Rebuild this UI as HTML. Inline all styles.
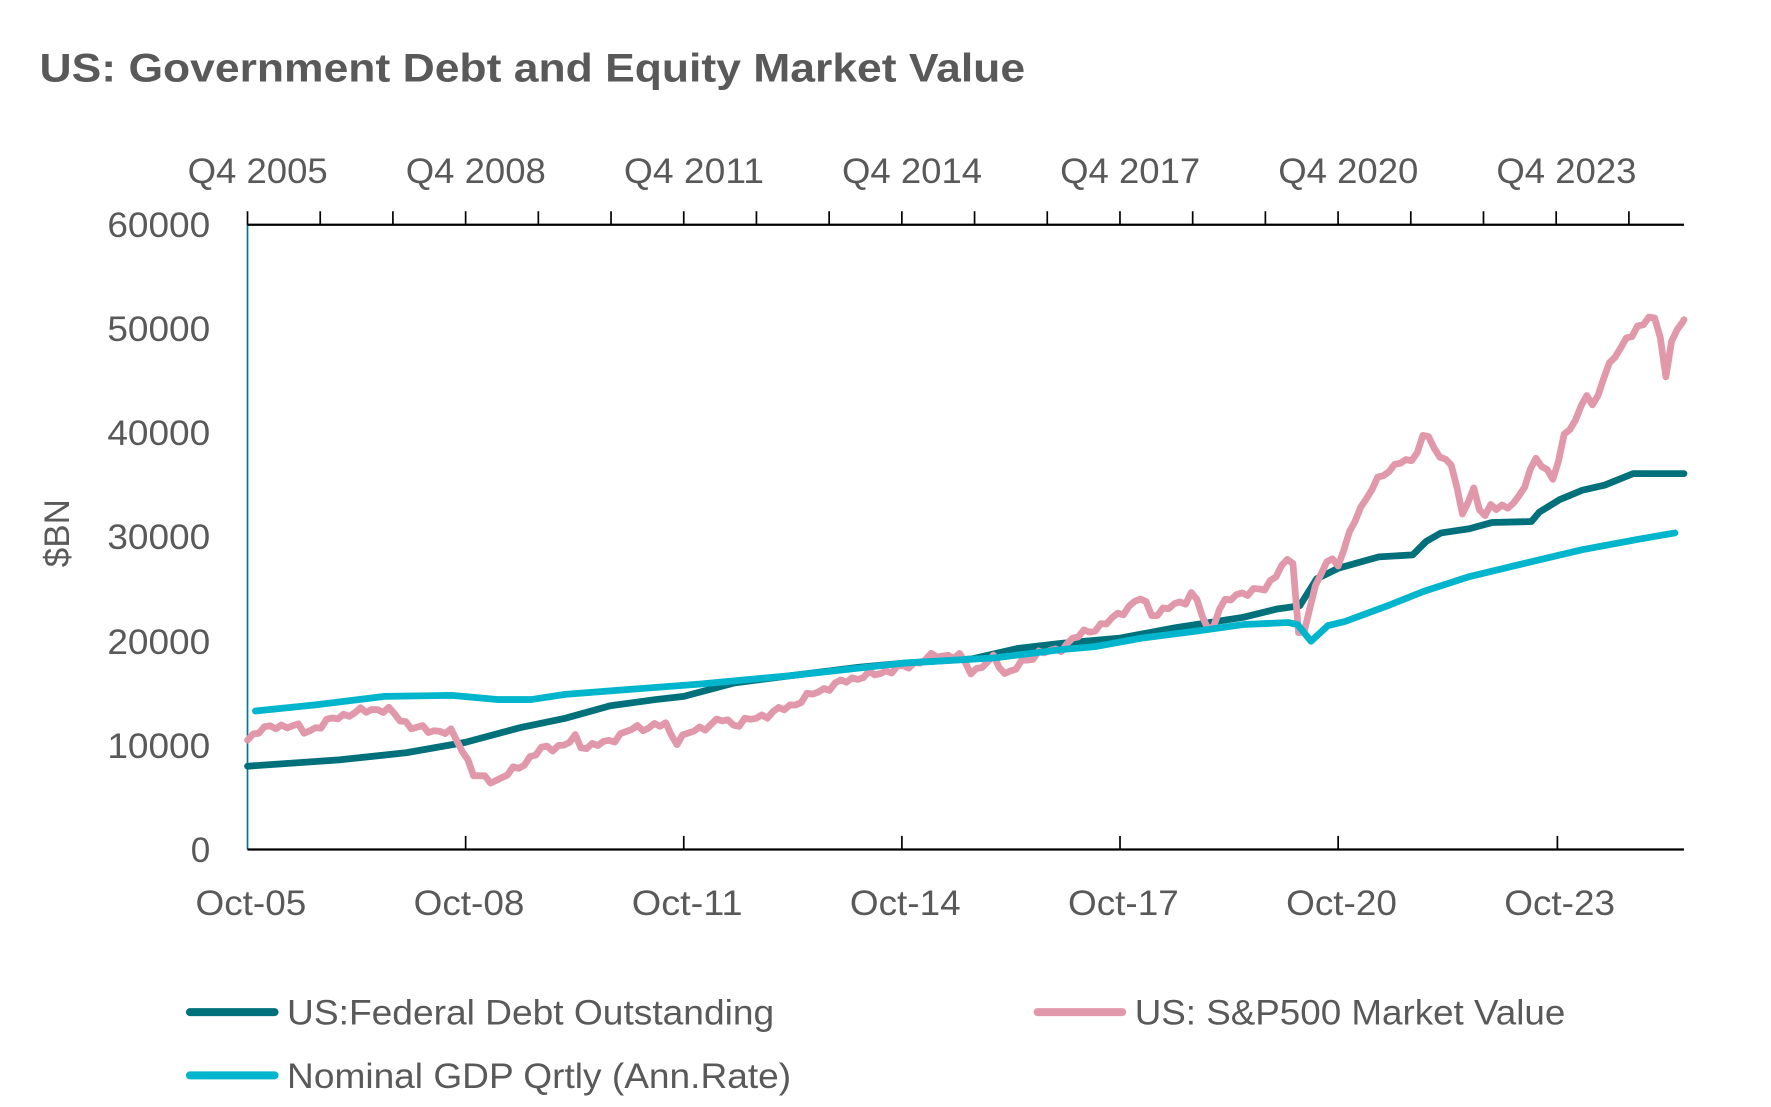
<!DOCTYPE html>
<html><head><meta charset="utf-8"><style>
html,body{margin:0;padding:0;background:#fff;width:1771px;height:1107px;overflow:hidden}
svg{display:block}
text{font-family:"Liberation Sans",sans-serif;fill:#595959}
</style></head><body>
<svg id="s" width="1771" height="1107" viewBox="0 0 1567 980" preserveAspectRatio="none" xmlns="http://www.w3.org/2000/svg">
<text x="35" y="72" font-size="35" font-weight="bold" textLength="872" lengthAdjust="spacingAndGlyphs">US: Government Debt and Equity Market Value</text>
<g font-size="31" text-anchor="middle">
<text x="228" y="162" textLength="124" lengthAdjust="spacingAndGlyphs">Q4 2005</text><text x="421" y="162" textLength="124" lengthAdjust="spacingAndGlyphs">Q4 2008</text><text x="614" y="162" textLength="124" lengthAdjust="spacingAndGlyphs">Q4 2011</text><text x="807" y="162" textLength="124" lengthAdjust="spacingAndGlyphs">Q4 2014</text><text x="1000" y="162" textLength="124" lengthAdjust="spacingAndGlyphs">Q4 2017</text><text x="1193" y="162" textLength="124" lengthAdjust="spacingAndGlyphs">Q4 2020</text><text x="1386" y="162" textLength="124" lengthAdjust="spacingAndGlyphs">Q4 2023</text>
<text x="222" y="810" textLength="98" lengthAdjust="spacingAndGlyphs">Oct-05</text><text x="415" y="810" textLength="98" lengthAdjust="spacingAndGlyphs">Oct-08</text><text x="608" y="810" textLength="98" lengthAdjust="spacingAndGlyphs">Oct-11</text><text x="801" y="810" textLength="98" lengthAdjust="spacingAndGlyphs">Oct-14</text><text x="994" y="810" textLength="98" lengthAdjust="spacingAndGlyphs">Oct-17</text><text x="1187" y="810" textLength="98" lengthAdjust="spacingAndGlyphs">Oct-20</text><text x="1380" y="810" textLength="98" lengthAdjust="spacingAndGlyphs">Oct-23</text>
</g>
<g font-size="31" text-anchor="end">
<text x="186" y="210" textLength="91" lengthAdjust="spacingAndGlyphs">60000</text><text x="186" y="302" textLength="91" lengthAdjust="spacingAndGlyphs">50000</text><text x="186" y="394" textLength="91" lengthAdjust="spacingAndGlyphs">40000</text><text x="186" y="486" textLength="91" lengthAdjust="spacingAndGlyphs">30000</text><text x="186" y="579" textLength="91" lengthAdjust="spacingAndGlyphs">20000</text><text x="186" y="671" textLength="91" lengthAdjust="spacingAndGlyphs">10000</text><text x="186" y="763">0</text>
</g>
<text transform="translate(61,472) rotate(-90)" font-size="31" text-anchor="middle">$BN</text>
<line x1="219" y1="199" x2="219" y2="752" stroke="#00778b" stroke-width="1.5"/>
<line x1="219" y1="199" x2="1490" y2="199" stroke="#000" stroke-width="2"/>
<line x1="219" y1="752" x2="1490" y2="752" stroke="#000" stroke-width="2"/>
<g id="ticks" stroke="#000" stroke-width="1.5"></g>
<g id="lines" fill="none" stroke-width="6" stroke-linejoin="round" stroke-linecap="round"></g>
<g stroke-width="7" stroke-linecap="round">
<line x1="168" y1="896" x2="243" y2="896" stroke="#00707a"/>
<line x1="918" y1="896" x2="993" y2="896" stroke="#e298ab"/>
<line x1="168" y1="952" x2="243" y2="952" stroke="#00b5cc"/>
</g>
<g font-size="31">
<text x="254" y="907" textLength="431" lengthAdjust="spacingAndGlyphs">US:Federal Debt Outstanding</text>
<text x="1004" y="907" textLength="381" lengthAdjust="spacingAndGlyphs">US: S&amp;P500 Market Value</text>
<text x="254" y="963" textLength="446" lengthAdjust="spacingAndGlyphs">Nominal GDP Qrtly (Ann.Rate)</text>
</g>
</svg>
<script>
var NS="http://www.w3.org/2000/svg";
function yv(v){return 752-v*553/60000;}
var t=document.getElementById('ticks');
for(var x=219;x<=1490;x+=64.33){var l=document.createElementNS(NS,'line');l.setAttribute('x1',x);l.setAttribute('x2',x);l.setAttribute('y1',199);l.setAttribute('y2',187);t.appendChild(l);}
[412,605,798,991,1184,1378].forEach(function(x){var l=document.createElementNS(NS,'line');l.setAttribute('x1',x);l.setAttribute('x2',x);l.setAttribute('y1',752);l.setAttribute('y2',740);t.appendChild(l);});
function interp(k,step){var out=[];for(var x=k[0][0];x<=k[k.length-1][0];x+=step){for(var i=0;i<k.length-1&&k[i+1][0]<x;i++);var a=k[i],b=k[Math.min(i+1,k.length-1)];var f=b[0]==a[0]?0:(x-a[0])/(b[0]-a[0]);out.push([x,a[1]+(b[1]-a[1])*f]);}out.push(k[k.length-1]);return out;}
function draw(pts,col,step,jit){var p=step?interp(pts,step):pts;var s=p.map(function(q,i){var j=jit?(Math.sin(i*2.3)*jit+Math.sin(i*5.1)*jit*0.6):0;return q[0].toFixed(1)+','+yv(q[1]+j).toFixed(1);}).join(' ');var e=document.createElementNS(NS,'polyline');e.setAttribute('points',s);e.setAttribute('stroke',col);document.getElementById('lines').appendChild(e);}
var debt=[[219,8000],[300,8600],[360,9300],[412,10300],[460,11700],[500,12600],[540,13800],[580,14400],[605,14700],[650,16000],[700,16700],[760,17500],[800,17900],[860,18300],[900,19300],[940,19800],[991,20300],[1040,21300],[1100,22300],[1130,23100],[1150,23400],[1165,26000],[1184,27000],[1220,28100],[1250,28300],[1262,29600],[1275,30400],[1300,30800],[1320,31400],[1355,31500],[1362,32400],[1380,33600],[1400,34500],[1420,35000],[1445,36100],[1490,36100]];
var gdp=[[226,13300],[280,13900],[340,14700],[400,14800],[440,14400],[470,14400],[500,14900],[560,15400],[620,15900],[700,16700],[800,17900],[880,18400],[940,19200],[970,19500],[1010,20300],[1060,21000],[1100,21600],[1140,21800],[1148,21600],[1160,20000],[1175,21500],[1190,21900],[1230,23500],[1260,24800],[1300,26200],[1350,27500],[1400,28800],[1450,29800],[1482,30400]];
var sp=[[219,10500],[228,11500],[260,12000],[270,11200],[300,12800],[330,13500],[345,13300],[365,11700],[400,11200],[410,9500],[420,7000],[440,6600],[460,8000],[480,9700],[500,10000],[510,10800],[515,9800],[535,10200],[560,11600],[590,12000],[597,10300],[610,11200],[640,12500],[650,12000],[680,13000],[700,13800],[720,15000],[750,16300],[780,17000],[800,17500],[830,18700],[850,18500],[860,17000],[880,18400],[890,16800],[920,19000],[935,19000],[950,20300],[980,21800],[1010,24200],[1020,22500],[1050,24000],[1056,24800],[1070,20600],[1080,23500],[1100,24700],[1120,25000],[1135,27500],[1145,27600],[1150,19000],[1160,24000],[1175,28000],[1185,27500],[1200,32000],[1215,35000],[1240,37500],[1250,37000],[1258,39700],[1265,39800],[1275,37000],[1282,38000],[1295,32000],[1305,34800],[1312,31500],[1320,33500],[1325,32500],[1335,33000],[1345,34000],[1360,37700],[1375,35500],[1385,40000],[1395,41500],[1405,44000],[1410,42000],[1420,46000],[1440,49000],[1450,50500],[1455,50200],[1460,51500],[1468,50000],[1475,45000],[1480,49500],[1490,50700]];
draw(debt,'#00707a',0,0);
draw(sp,'#e298ab',5,250);
draw(gdp,'#00b5cc',0,0);
</script>
</body></html>
